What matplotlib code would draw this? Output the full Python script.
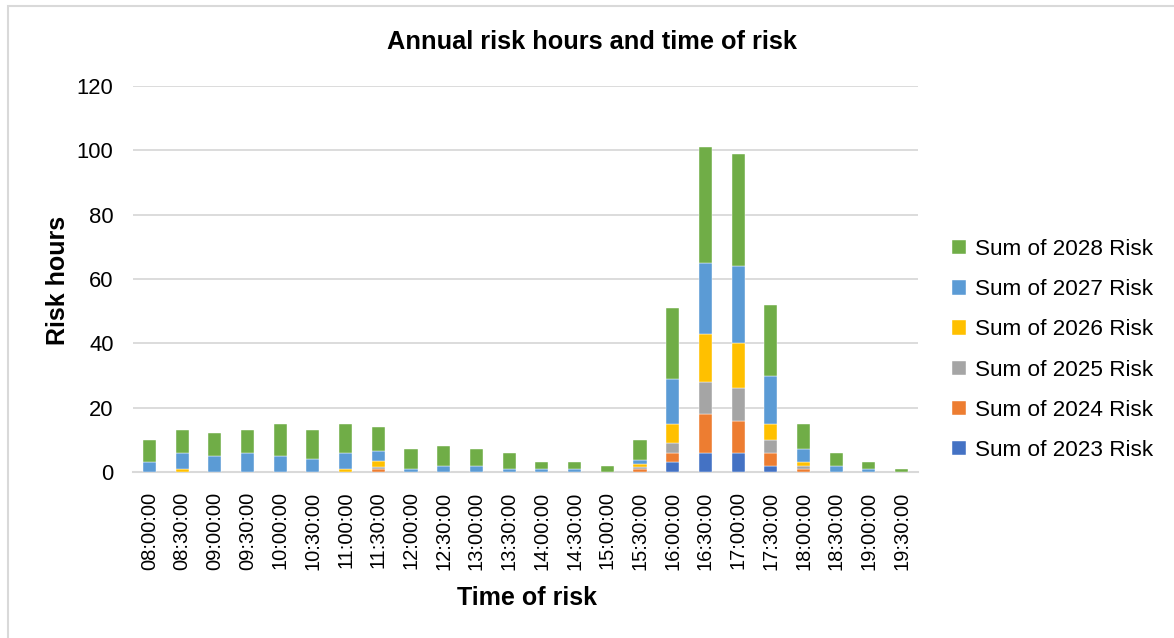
import numpy as np
import matplotlib.pyplot as plt
from matplotlib.patches import Rectangle

plt.rcParams['font.family'] = ['Liberation Sans', 'DejaVu Sans']

times = ["08:00:00", "08:30:00", "09:00:00", "09:30:00", "10:00:00", "10:30:00",
         "11:00:00", "11:30:00", "12:00:00", "12:30:00", "13:00:00", "13:30:00",
         "14:00:00", "14:30:00", "15:00:00", "15:30:00", "16:00:00", "16:30:00",
         "17:00:00", "17:30:00", "18:00:00", "18:30:00", "19:00:00", "19:30:00"]

risk_2023 = [0, 0, 0, 0, 0, 0, 0, 0, 0, 0, 0, 0, 0, 0, 0, 0, 3, 6, 6, 2, 0, 0, 0, 0]
risk_2024 = [0, 0, 0, 0, 0, 0, 0, 1, 0, 0, 0, 0, 0, 0, 0, 1, 3, 12, 10, 4, 1, 0, 0, 0]
risk_2025 = [0, 0, 0, 0, 0, 0, 0, 0.7, 0, 0, 0, 0, 0, 0, 0, 0.6, 3, 10, 10, 4, 1, 0, 0, 0]
risk_2026 = [0, 1, 0, 0, 0, 0, 1, 1.8, 0, 0, 0, 0, 0, 0, 0, 1, 6, 15, 14, 5, 1, 0, 0, 0]
risk_2027 = [3, 5, 5, 6, 5, 4, 5, 3.1, 1, 2, 2, 1, 1, 1, 0, 1, 14, 22, 24, 15, 4, 2, 1, 0]
risk_2028 = [7, 7, 7, 7, 10, 9, 9, 7.4, 6, 6, 5, 5, 2, 2, 2, 6.4, 22, 36, 35, 22, 8, 4, 2, 1]

series = [("Sum of 2023 Risk", risk_2023, "#4472C4"),
          ("Sum of 2024 Risk", risk_2024, "#ED7D31"),
          ("Sum of 2025 Risk", risk_2025, "#A5A5A5"),
          ("Sum of 2026 Risk", risk_2026, "#FFC000"),
          ("Sum of 2027 Risk", risk_2027, "#5B9BD5"),
          ("Sum of 2028 Risk", risk_2028, "#70AD47")]

fig = plt.figure(figsize=(11.74, 6.38), dpi=100)
ax = fig.add_axes([133 / 1174, 1 - 472 / 638, (918 - 133) / 1174, (472 - 86) / 638])

x = np.arange(len(times))
bottom = np.zeros(len(times))
for label, vals, color in series:
    vals = np.array(vals, dtype=float)
    ax.bar(x, vals, 0.4, bottom=bottom, color=color, label=label,
           edgecolor="white", linewidth=0.3, zorder=3)
    bottom += vals

ax.set_xlim(-0.5, len(times) - 0.5)
ax.set_ylim(0, 120)
ax.set_yticks(range(0, 121, 20))
ax.set_xticks(x)
ax.set_xticklabels(times, rotation=90)
ax.tick_params(axis="y", length=0, pad=14, labelsize=15.8)
ax.tick_params(axis="x", length=0, pad=14, labelsize=14.5)
ax.grid(axis="y", color="#d9d9d9", linewidth=1.3, zorder=0)
for s in ["top", "right", "left"]:
    ax.spines[s].set_visible(False)
ax.spines["bottom"].set_color("#d9d9d9")
ax.spines["bottom"].set_linewidth(1.5)

# title centred on the whole figure, like the Excel chart
fig.text(592 / 1174, 1 - 42 / 638, "Annual risk hours and time of risk",
         fontsize=18.3, fontweight="bold", ha="center", va="center")

ax.set_xlabel("Time of risk", fontsize=18, fontweight="bold")
ax.set_ylabel("Risk hours", fontsize=18, fontweight="bold")
ax.xaxis.set_label_coords(0.502, -0.326)
ax.xaxis.label.set_va("center")
ax.yaxis.set_label_coords(-0.095, 0.497)
ax.yaxis.label.set_va("center")

handles, labels = ax.get_legend_handles_labels()
leg = ax.legend(handles[::-1], labels[::-1], loc="center left",
                bbox_to_anchor=(1.018, 0.316), frameon=False, fontsize=16.2,
                handlelength=0.6, handleheight=0.6, handletextpad=0.4,
                labelspacing=0.85)

fig.patches.append(Rectangle((8 / 1174, -0.1), 1.2, 1.1 - 6 / 638,
                             transform=fig.transFigure, fill=False,
                             edgecolor="#d9d9d9", linewidth=1.5))

fig.savefig("out.png", dpi=100)
